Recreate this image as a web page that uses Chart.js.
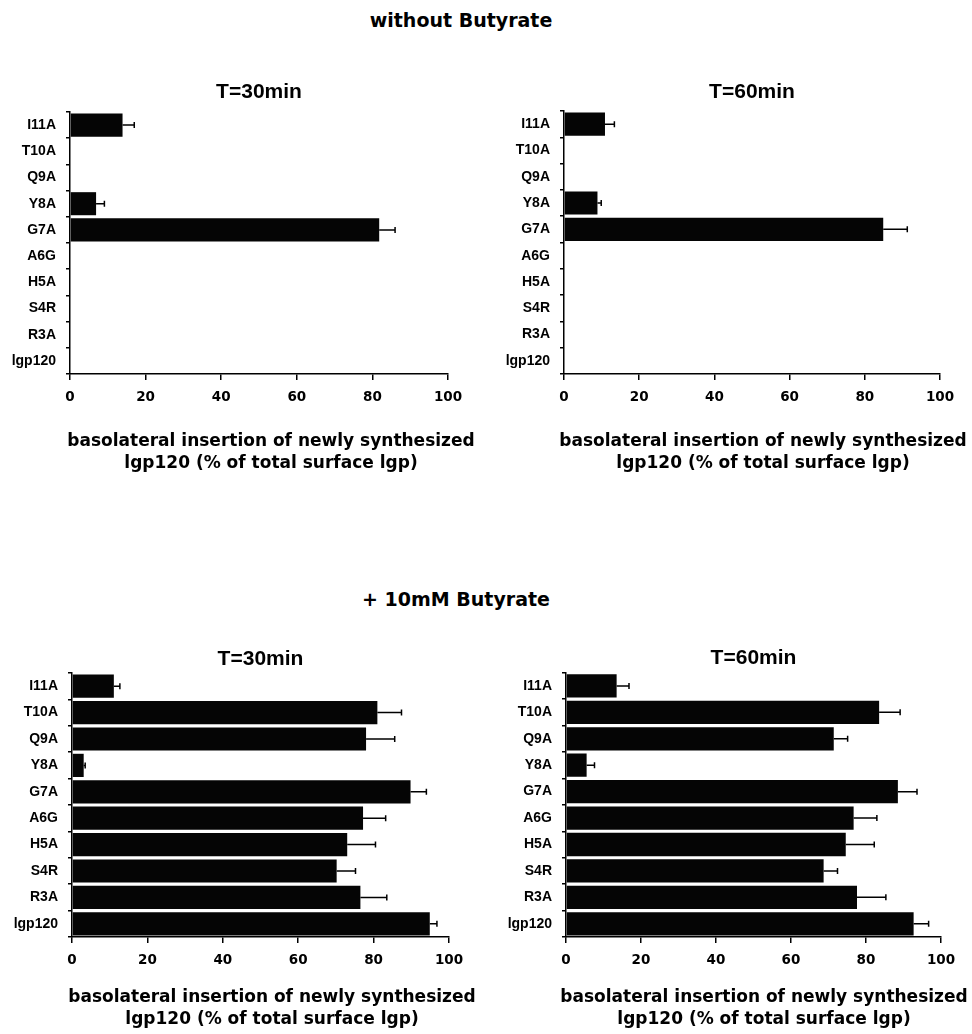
<!DOCTYPE html>
<html>
<head>
<meta charset="utf-8">
<script src="https://cdn.jsdelivr.net/npm/chart.js@4/dist/chart.umd.min.js"></script>
<style>
  html, body { margin: 0; padding: 0; background: #fff; overflow: hidden; }
  body { width: 972px; height: 1034px; position: relative; }
  .hdr { position: absolute; left: 0; font-family: "DejaVu Sans", sans-serif; font-weight: bold;
         font-size: 19px; line-height: 19px; text-align: center; color: #000; white-space: nowrap; }
  .panel { position: absolute; }
  canvas { display: block; }
</style>
</head>
<body>
<div class="hdr" style="top:11px;width:922px;">without Butyrate</div>
<div class="hdr" style="top:590px;width:912px;">+ 10mM Butyrate</div>

<div class="panel" style="left:0px;top:70px;"><canvas id="c1" width="532" height="409"></canvas></div>
<div class="panel" style="left:490px;top:70px;"><canvas id="c2" width="532" height="409"></canvas></div>
<div class="panel" style="left:0px;top:630px;"><canvas id="c3" width="532" height="404"></canvas></div>
<div class="panel" style="left:490px;top:630px;"><canvas id="c4" width="532" height="404"></canvas></div>

<script>
// ---- data ----
const categories = ['I11A', 'T10A', 'Q9A', 'Y8A', 'G7A', 'A6G', 'H5A', 'S4R', 'R3A', 'lgp120'];
const xTicks = [0, 20, 40, 60, 80, 100];

const noButyrate30 = [13.9, 0, 0, 6.9, 81.8, 0, 0, 0, 0, 0];
const noButyrate30Err = [3.1, 0, 0, 2.2, 4.2, 0, 0, 0, 0, 0];
const noButyrate60 = [10.9, 0, 0, 8.9, 84.9, 0, 0, 0, 0, 0];
const noButyrate60Err = [2.5, 0, 0, 1.0, 6.4, 0, 0, 0, 0, 0];
const butyrate30 = [11.1, 81.0, 78.0, 3.1, 89.8, 77.2, 73.0, 70.2, 76.5, 94.9];
const butyrate30Err = [1.6, 6.4, 7.6, 0.4, 4.2, 6.0, 7.5, 5.0, 7.0, 1.9];
const butyrate60 = [13.5, 83.5, 71.4, 5.5, 88.5, 76.7, 74.6, 68.7, 77.6, 92.7];
const butyrate60Err = [3.3, 5.6, 3.7, 2.1, 5.1, 6.2, 7.6, 3.7, 7.7, 4.0];

const panelTitles = ['T=30min', 'T=60min', 'T=30min', 'T=60min'];
const axisTitle = ['basolateral insertion of newly synthesized', 'lgp120 (% of total surface lgp)'];

// ---- error bar plugin (uses the chart's own scales) ----
const errorBarPlugin = {
  id: 'errorBars',
  afterDatasetsDraw(chart) {
    const ctx = chart.ctx;
    const xs = chart.scales.x;
    chart.data.datasets.forEach((ds, di) => {
      const meta = chart.getDatasetMeta(di);
      const errs = ds.errors || [];
      meta.data.forEach((bar, i) => {
        const v = ds.data[i], e = errs[i];
        if (!e) return;
        const x0 = xs.getPixelForValue(v);
        const x1 = xs.getPixelForValue(v + e);
        const y = bar.y;
        ctx.save();
        ctx.strokeStyle = '#000';
        ctx.lineWidth = 1.5;
        ctx.beginPath();
        ctx.moveTo(x0, y); ctx.lineTo(x1, y);
        ctx.moveTo(x1, y - 3); ctx.lineTo(x1, y + 3);
        ctx.stroke();
        ctx.restore();
      });
    });
  }
};

function makePanel(id, values, errors, title, g) {
  new Chart(document.getElementById(id), {
    type: 'bar',
    data: {
      labels: categories,
      datasets: [{
        data: values,
        errors: errors,
        backgroundColor: '#050505',
        borderWidth: 0,
        barPercentage: 0.88,
        categoryPercentage: 1.0
      }]
    },
    plugins: [errorBarPlugin],
    options: {
      indexAxis: 'y',
      responsive: false,
      maintainAspectRatio: false,
      animation: false,
      devicePixelRatio: 1,
      layout: { padding: { left: g.pl, right: 0, top: 0, bottom: 0 } },
      plugins: {
        legend: { display: false },
        tooltip: { enabled: false },
        // panel title (above the plot)
        subtitle: {
          display: true,
          position: 'top',
          fullSize: false,
          text: title,
          color: '#000',
          font: { family: '"Liberation Sans", Arial, sans-serif', size: 21, weight: 'bold', lineHeight: 1.2 },
          padding: { top: g.tpt, bottom: g.tpb }
        },
        // x axis caption (below the plot)
        title: {
          display: true,
          position: 'bottom',
          text: axisTitle,
          color: '#000',
          font: { family: '"DejaVu Sans", sans-serif', size: 17, weight: 'bold', lineHeight: 1.294 },
          padding: { top: g.apt, bottom: g.apb }
        }
      },
      scales: {
        x: {
          type: 'linear',
          min: 0, max: 100,
          afterBuildTicks(scale) { scale.ticks = xTicks.map(v => ({ value: v })); },
          afterFit(scale) { scale.height = 31; },
          grid: { drawOnChartArea: false, drawTicks: true, tickLength: 6, color: '#000', lineWidth: 1.5 },
          border: { display: true, color: '#000', width: 1.5 },
          ticks: {
            color: '#000', padding: 9, maxRotation: 0, autoSkip: false,
            font: { family: '"DejaVu Sans", sans-serif', size: 13.5, weight: 'bold', lineHeight: 1.2 }
          }
        },
        y: {
          type: 'category',
          offset: true,
          afterFit(scale) { scale.width = 60; },
          grid: { offset: true, drawOnChartArea: false, drawTicks: true, tickLength: 4, color: '#000', lineWidth: 1.5 },
          border: { display: true, color: '#000', width: 1.5 },
          ticks: {
            color: '#000', padding: 10, autoSkip: false,
            font: { family: '"Liberation Sans", Arial, sans-serif', size: 14, weight: 'bold' }
          }
        },
        // empty spacer axis on the right: positions the caption where the original has it
        yspace: {
          type: 'linear',
          axis: 'y',
          position: 'right',
          afterFit(scale) { scale.width = g.rw; },
          grid: { display: false },
          border: { display: false },
          ticks: { display: false }
        }
      }
    }
  });
}

makePanel('c1', noButyrate30, noButyrate30Err, panelTitles[0], { pl: 10, rw: 84, tpt: 9.4, tpb: 7.4, apt: 26, apb: 4 });
makePanel('c2', noButyrate60, noButyrate60Err, panelTitles[1], { pl: 14, rw: 82, tpt: 9.4, tpb: 6.4, apt: 26, apb: 4 });
makePanel('c3', butyrate30, butyrate30Err, panelTitles[2], { pl: 12, rw: 83, tpt: 16.4, tpb: 1.4, apt: 19, apb: 3 });
makePanel('c4', butyrate60, butyrate60Err, panelTitles[3], { pl: 16, rw: 81, tpt: 15.4, tpb: 2.1, apt: 19, apb: 3 });
</script>
</body>
</html>
